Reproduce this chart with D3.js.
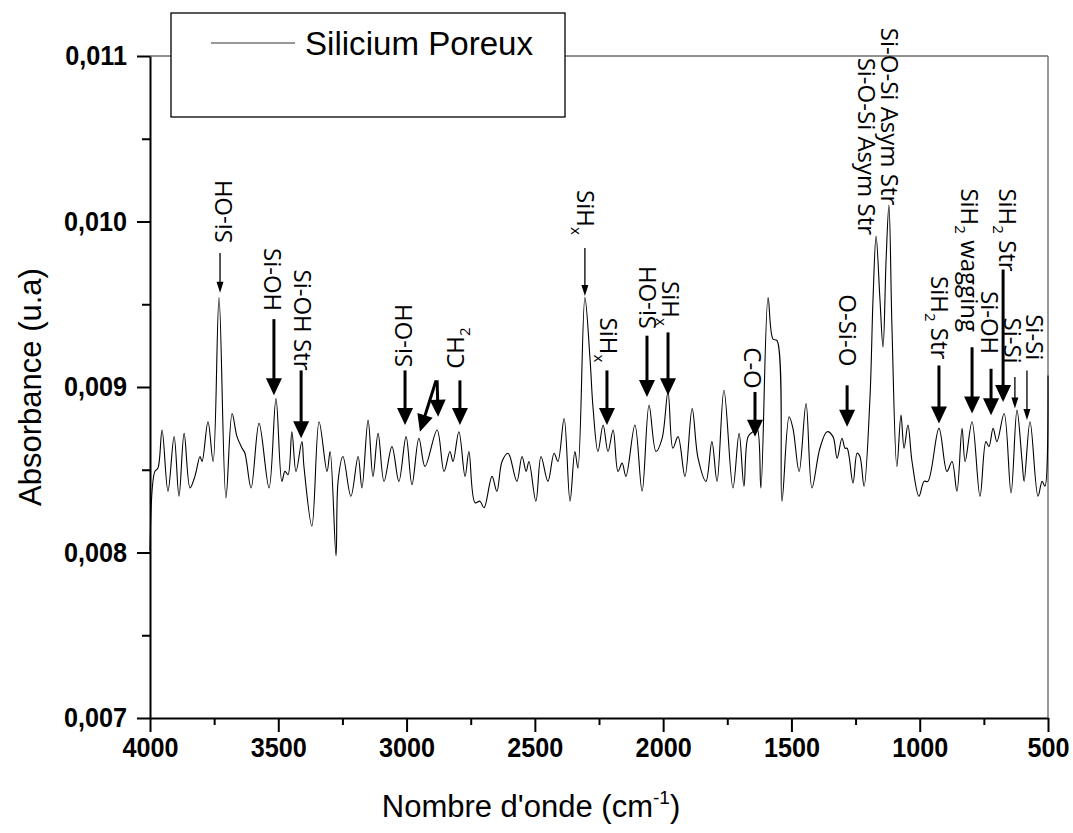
<!DOCTYPE html>
<html>
<head>
<meta charset="utf-8">
<script src="https://cdn.jsdelivr.net/npm/d3@7"></script>
<style>
body { margin: 0; background: #fff; }
svg text { font-family: "Liberation Sans", Arial, sans-serif; fill: #000; }
.tick text { font-weight: bold; font-size: 28px; }
.note { font-family: "Open Sans", sans-serif; font-size: 24px; }
</style>
</head>
<body>
<svg id="chart" width="1073" height="833"></svg>
<script>
// spectrum (cm-1, u.a)
const wavenumber = [
  4000,3981,3969,3953,3930,3906,3887,3867,3844,3825,
  3805,3797,3774,3754,3731,3704,3680,3661,3641,3630,
  3606,3575,3536,3509,3486,3474,3462,3447,3431,3408,
  3400,3369,3341,3310,3298,3275,3267,3248,3217,3189,
  3174,3150,3131,3111,3088,3057,3030,3002,2979,2952,
  2928,2881,2854,2831,2819,2796,2772,2757,2733,2714,
  2698,2667,2648,2628,2605,2597,2570,2550,2534,2523,
  2496,2476,2449,2425,2410,2386,2363,2344,2332,2305,
  2285,2273,2254,2234,2215,2195,2176,2160,2145,2110,
  2082,2055,2028,2004,1981,1962,1942,1915,1887,1864,
  1833,1810,1790,1763,1728,1704,1685,1669,1650,1634,
  1619,1591,1572,1556,1537,1509,1494,1470,1443,1420,
  1389,1361,1338,1322,1303,1291,1283,1260,1244,1233,
  1217,1194,1182,1170,1155,1143,1131,1120,1108,1089,
  1073,1061,1046,1030,1003,983,968,925,894,874,
  855,835,823,796,765,742,730,714,699,671,
  644,621,601,593,570,539,523,512,500
];
const absorbance = [
  .00801,.00849,.00851,.00874,.00837,.00870,.00834,.00872,.00839,.00846,
  .00858,.00855,.00879,.00855,.00954,.00833,.00884,.00870,.00863,.00860,
  .00839,.00878,.00839,.00893,.00843,.00849,.00847,.00873,.00849,.00867,
  .00852,.00816,.00879,.00849,.00861,.00798,.00843,.00858,.00834,.00858,
  .00839,.00880,.00846,.00872,.00843,.00864,.00843,.00870,.00841,.00869,
  .00852,.00874,.00849,.00861,.00855,.00873,.00846,.00861,.00830,.00831,
  .00827,.00846,.00837,.00855,.00860,.00858,.00843,.00858,.00849,.00855,
  .00831,.00858,.00843,.00860,.00855,.00881,.00831,.00861,.00851,.00954,
  .00917,.00887,.00861,.00877,.00861,.00874,.00849,.00854,.00846,.00877,
  .00837,.00889,.00861,.00869,.00897,.00863,.00870,.00846,.00887,.00857,
  .00843,.00867,.00843,.00898,.00839,.00872,.00840,.00870,.00873,.00875,
  .00839,.00954,.00929,.00928,.00831,.00882,.00875,.00849,.00890,.00839,
  .00863,.00873,.00870,.00857,.00869,.00863,.00863,.00842,.00860,.00858,
  .00840,.00893,.00953,.00991,.00953,.00924,.00977,.01010,.00935,.00852,
  .00883,.00863,.00877,.00855,.00834,.00843,.00843,.00875,.00849,.00855,
  .00837,.00875,.00855,.00879,.00834,.00867,.00864,.00875,.00867,.00884,
  .00836,.00886,.00855,.00843,.00879,.00834,.00843,.00840,.00907
];

const xTicks = [4000, 3500, 3000, 2500, 2000, 1500, 1000, 500];
const xMinor = [3750, 3250, 2750, 2250, 1750, 1250, 750];
const yTicks = [0.007, 0.008, 0.009, 0.010, 0.011];
const yMinor = [0.0075, 0.0085, 0.0095, 0.0105];

const seriesName = 'Silicium Poreux';

// band labels: text, subscript, rest, wavenumber, absorbance where the text starts, direction
const bandLabels = [
  ['Si-OH', '', '', 3715, 0.00987, -1],
  ['Si-OH', '', '', 3521, 0.00984, 1],
  ['Si-OH Str', '', '', 3404, 0.00971, 1],
  ['Si-OH', '', '', 3014, 0.00912, -1],
  ['CH', '2', '', 2811, 0.00911, -1],
  ['SiH', 'x', '', 2301, 0.01019, 1],
  ['SiH', 'x', '', 2211, 0.00942, 1],
  ['Si-OH', '', '', 2063, 0.00935, -1],
  ['SiH', 'x', '', 1969, 0.00964, 1],
  ['C-O', '', '', 1650, 0.00924, 1],
  ['O-Si-O', '', '', 1280, 0.00956, 1],
  ['Si-O-Si Asym Str', '', '', 1205, 0.01099, 1],
  ['Si-O-Si Asym Str', '', '', 1116, 0.01117, 1],
  ['SiH', '2', ' Str', 921, 0.00967, 1],
  ['SiH', '2', ' wagging', 804, 0.01020, 1],
  ['Si-OH', '', '', 726, 0.00958, 1],
  ['SiH', '2', ' Str', 656, 0.01020, 1],
  ['Si-Si', '', '', 636, 0.00942, 1],
  ['Si-Si', '', '', 551, 0.00944, 1]
];

// arrows: from (wn, abs) to (wn, abs), heavy or thin
const bandArrows = [
  [3727, 0.00981, 3727, 0.00957, 0],
  [3517, 0.00941, 3517, 0.00895, 1],
  [3411, 0.00910, 3411, 0.00869, 1],
  [3006, 0.00910, 3006, 0.00877, 1],
  [2885, 0.00904, 2948, 0.00873, 1],
  [2881, 0.00904, 2877, 0.00882, 1],
  [2792, 0.00904, 2792, 0.00877, 1],
  [2305, 0.00984, 2305, 0.00955, 0],
  [2219, 0.00910, 2219, 0.00877, 1],
  [2063, 0.00931, 2063, 0.00894, 1],
  [1981, 0.00933, 1981, 0.00895, 1],
  [1642, 0.00897, 1642, 0.00870, 1],
  [1283, 0.00901, 1283, 0.00876, 1],
  [925, 0.00913, 925, 0.00878, 1],
  [796, 0.00924, 796, 0.00884, 1],
  [722, 0.00911, 722, 0.00883, 1],
  [675, 0.00971, 675, 0.00891, 1],
  [629, 0.00906, 629, 0.00887, 0],
  [582, 0.00910, 582, 0.00880, 0]
];

const svg = d3.select('#chart');
const margin = { left: 150, top: 56, right: 25, bottom: 115 };
const width = +svg.attr('width') - margin.left - margin.right;
const height = +svg.attr('height') - margin.top - margin.bottom;

const x = d3.scaleLinear().domain([4000, 500]).range([0, width]);
const y = d3.scaleLinear().domain([0.007, 0.011]).range([height, 0]);

const g = svg.append('g')
  .attr('transform', `translate(${margin.left},${margin.top})`);

// frame top and right
g.append('line').attr('x1', 0).attr('x2', width).attr('y1', 0).attr('y2', 0)
  .attr('stroke', '#222').attr('stroke-width', 1);
g.append('line').attr('x1', width).attr('x2', width).attr('y1', 0).attr('y2', height)
  .attr('stroke', '#777').attr('stroke-width', 1.5);

const fmtY = d => d3.format('.3f')(d).replace('.', ',');

g.append('g').attr('transform', `translate(0,${height})`)
  .call(d3.axisBottom(x).tickValues(xTicks).tickSize(14).tickPadding(5)
    .tickSizeOuter(0).tickFormat(d3.format('d')));
g.append('g').attr('transform', `translate(0,${height})`)
  .call(d3.axisBottom(x).tickValues(xMinor).tickSize(7).tickSizeOuter(0).tickFormat(''))
  .select('.domain').remove();

g.append('g')
  .call(d3.axisLeft(y).tickValues(yTicks).tickSize(13).tickPadding(10)
    .tickSizeOuter(0).tickFormat(fmtY));
g.append('g')
  .call(d3.axisLeft(y).tickValues(yMinor).tickSize(8).tickSizeOuter(0).tickFormat(''))
  .select('.domain').remove();

g.selectAll('.domain').attr('stroke', '#000').attr('stroke-width', 2);
g.selectAll('.tick line').attr('stroke', '#000').attr('stroke-width', 2);
// narrow bold tick labels, like the original
g.selectAll('.tick text')
  .attr('fill', '#000')
  .each(function () {
    const len = this.getComputedTextLength();
    if (len > 0) d3.select(this).attr('textLength', len * 0.9).attr('lengthAdjust', 'spacingAndGlyphs');
  });

// spectrum
const points = wavenumber.map((wn, i) => [wn, absorbance[i]]);
g.append('path')
  .datum(points)
  .attr('fill', 'none')
  .attr('stroke', '#000')
  .attr('stroke-width', 1.1)
  .attr('d', d3.line()
    .x(d => x(d[0]))
    .y(d => y(d[1]))
    .curve(d3.curveCatmullRom.alpha(0.5)));

// band labels
bandLabels.forEach(([txt, sub, rest, wn, ab, dir]) => {
  const t = g.append('text')
    .attr('class', 'note')
    .attr('transform', `translate(${x(wn)},${y(ab)}) rotate(${dir * 90})`)
    .attr('dy', '0.36em');
  t.append('tspan').text(txt);
  if (sub) {
    t.append('tspan').attr('dy', 6).attr('font-size', 15).text(sub);
    if (rest) t.append('tspan').attr('dy', -6).text(rest);
  }
});

// arrows
bandArrows.forEach(([w1, a1, w2, a2, heavy]) => {
  const x1 = x(w1), y1 = y(a1), x2 = x(w2), y2 = y(a2);
  const len = Math.hypot(x2 - x1, y2 - y1);
  const ux = (x2 - x1) / len, uy = (y2 - y1) / len;
  const hl = heavy ? 17 : 11, hw = heavy ? 8 : 3.5;
  const bx = x2 - ux * hl, by = y2 - uy * hl;
  g.append('line')
    .attr('x1', x1).attr('y1', y1)
    .attr('x2', bx + ux).attr('y2', by + uy)
    .attr('stroke', '#000')
    .attr('stroke-width', heavy ? 3 : 1.3);
  g.append('path')
    .attr('d', `M${x2},${y2}L${bx - uy * hw},${by + ux * hw}L${bx + uy * hw},${by - ux * hw}Z`)
    .attr('fill', '#000');
});

// legend
const leg = svg.append('g');
leg.append('rect')
  .attr('x', 171).attr('y', 13).attr('width', 394).attr('height', 104)
  .attr('fill', '#fff').attr('stroke', '#000').attr('stroke-width', 1.3);
leg.append('line')
  .attr('x1', 211).attr('x2', 295).attr('y1', 43).attr('y2', 43)
  .attr('stroke', '#333').attr('stroke-width', 1.2);
leg.append('text')
  .attr('x', 305).attr('y', 55)
  .attr('font-size', 34)
  .attr('textLength', 228)
  .attr('lengthAdjust', 'spacingAndGlyphs')
  .text(seriesName);

// axis titles
svg.append('text')
  .attr('transform', `translate(41,${margin.top + height / 2}) rotate(-90)`)
  .attr('text-anchor', 'middle')
  .attr('font-size', 31)
  .text('Absorbance (u.a)');

const xt = svg.append('text')
  .attr('x', 531).attr('y', 817)
  .attr('text-anchor', 'middle')
  .attr('font-size', 31);
xt.append('tspan').text("Nombre d'onde (cm");
xt.append('tspan').attr('dy', -13).attr('font-size', 19).text('-1');
xt.append('tspan').attr('dy', 13).text(')');
</script>
</body>
</html>
